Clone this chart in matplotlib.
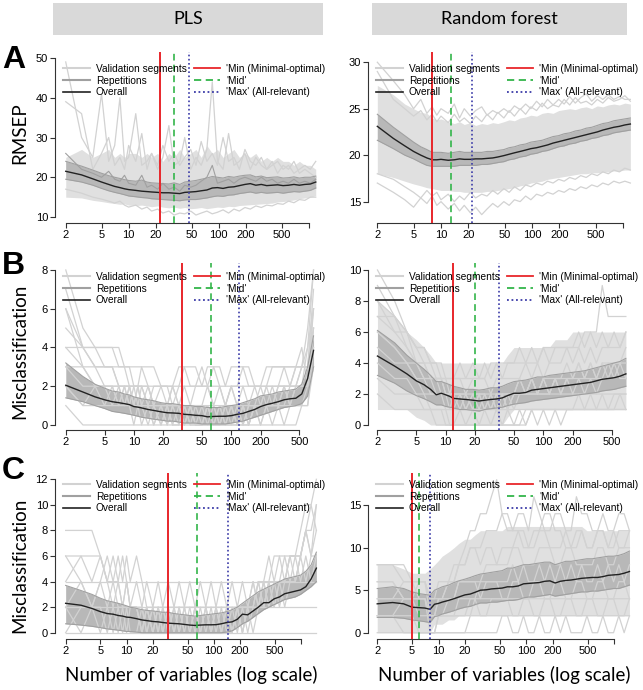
import matplotlib.pyplot as plt
from matplotlib.lines import Line2D
from matplotlib.patches import Rectangle

plt.rcParams['font.family'] = ['Liberation Sans', 'DejaVu Sans']

# ---- data ----
# number of variables kept at each step (row A, B, C)
xA = [2, 3, 4, 5, 6, 7, 8, 9, 10, 12,
      14, 16, 18, 21, 24, 28, 32, 37, 42, 49,
      56, 64, 74, 85, 97, 112, 129, 148, 170, 196,
      225, 259, 298, 342, 393, 452, 520, 598, 687, 790,
      908, 1044, 1200]
xB = [2, 3, 4, 5, 6, 7, 8, 9, 10, 11,
      12, 14, 16, 19, 22, 25, 29, 33, 38, 43,
      50, 57, 66, 76, 87, 100, 115, 132, 151, 174,
      200, 230, 264, 304, 349, 401, 461, 530, 609, 700]
xC = [2, 3, 4, 5, 6, 7, 8, 9, 10, 11,
      13, 15, 17, 20, 23, 26, 30, 35, 40, 46,
      53, 61, 70, 81, 93, 106, 122, 141, 162, 186,
      213, 245, 282, 324, 373, 428, 492, 566, 650, 748,
      859, 988, 1135, 1305, 1500]

# A, PLS (RMSEP)
a_pls_overall = [21.5, 20.6, 19.6, 18.8, 18.2, 17.7, 17.4, 17.1, 16.9, 16.7,
                 16.5, 16.4, 16.3, 16.2, 16.1, 16.1, 16.0, 15.9, 16.2, 16.3,
                 16.4, 16.6, 16.8, 17.3, 17.4, 17.2, 17.5, 17.6, 17.9, 18.2,
                 18.4, 18.0, 18.2, 17.9, 18.0, 18.1, 17.9, 18.0, 18.2, 18.0,
                 18.2, 18.3, 18.8]
a_pls_rep_lo = [19.5, 18.8, 18.0, 17.2, 16.6, 16.2, 15.9, 15.6, 15.3, 15.1,
                14.9, 14.8, 14.6, 14.5, 14.4, 14.3, 14.2, 14.1, 14.3, 14.4,
                14.4, 14.6, 14.8, 15.1, 15.3, 15.2, 15.5, 15.6, 15.9, 16.1,
                16.3, 16.0, 16.2, 16.0, 16.1, 16.2, 16.0, 16.2, 16.4, 16.3,
                16.5, 16.7, 17.3]
a_pls_rep_hi = [24.0, 22.8, 21.8, 21.0, 20.4, 20.0, 19.7, 19.4, 19.2, 19.0,
                19.3, 18.8, 18.6, 18.5, 18.4, 18.3, 18.6, 18.2, 18.8, 19.0,
                19.2, 19.5, 19.8, 20.2, 20.0, 19.8, 20.2, 20.0, 20.3, 20.5,
                20.6, 20.1, 20.3, 19.9, 20.0, 20.1, 19.8, 19.9, 20.1, 19.8,
                20.0, 20.0, 20.3]
a_pls_val_lo = [15.0, 14.8, 14.2, 13.9, 13.6, 13.4, 13.2, 13.3, 13.0, 12.9,
                13.0, 12.8, 12.6, 12.8, 12.5, 12.3, 12.5, 12.2, 12.4, 12.1,
                12.2, 12.4, 12.1, 12.3, 12.5, 12.4, 12.7, 12.6, 12.9, 13.0,
                13.1, 13.2, 13.3, 13.4, 13.5, 13.8, 13.9, 14.1, 14.3, 14.6,
                14.8, 15.0, 15.4]
a_pls_val_hi = [25, 27, 25, 26, 27, 25, 26, 25, 26, 26,
                25, 26, 25, 26, 24, 26, 25, 27, 25, 26,
                27, 25, 28, 26, 27, 25, 26, 27, 25, 26,
                25, 26, 24, 25, 24, 25, 24, 24, 23, 24,
                23, 23, 22]
a_pls_val_lines = [
    [49, 30, 25, 41, 24, 28, 40, 24, 25, 36,
     23, 24, 26, 22, 25, 33, 23, 24, 30, 22,
     25, 23, 27, 44, 24, 22, 31, 23, 24, 26,
     22, 25, 23, 22, 24, 21, 23, 22, 24, 21,
     22, 21, 20],
    [39, 36, 22, 26, 30, 23, 25, 22, 28, 24,
     31, 22, 26, 23, 28, 24, 26, 23, 25, 27,
     23, 29, 24, 26, 23, 30, 24, 25, 22, 27,
     24, 23, 25, 22, 23, 24, 22, 23, 21, 22,
     23, 22, 24],
    [17, 16, 15, 14.5, 14, 13.5, 14, 13, 12.5, 13,
     12, 12.5, 11.5, 12, 11, 11.5, 10.5, 11, 10.8, 11.5,
     10.5, 11, 11.5, 10.8, 11.2, 11.8, 11, 12, 11.5, 12.4,
     12, 12.8, 12.4, 13, 12.8, 13.4, 13.2, 14, 13.6, 14.4,
     14.2, 15, 15],
]
a_pls_rep_spike = [26, 22, 21, 20, 21.5, 19.5, 19, 20.5, 18.5, 18,
                   20.5, 17.5, 18, 17, 18.5, 17, 17.5, 16.5, 18, 17.5,
                   18, 19, 20, 23, 18.5, 19, 19.5, 18.5, 19.5, 20,
                   19.5, 19, 20, 19, 19.5, 18.5, 19, 18.5, 19.5, 18.5,
                   19, 18.5, 19.5]

# A, random forest (RMSEP)
a_rf_overall = [23.1, 21.8, 21.0, 20.4, 20.0, 19.7, 19.5, 19.5, 19.55, 19.45,
                19.5, 19.6, 19.55, 19.55, 19.6, 19.6, 19.65, 19.7, 19.8, 19.95,
                20.1, 20.25, 20.4, 20.55, 20.7, 20.8, 20.95, 21.1, 21.3, 21.45,
                21.6, 21.75, 21.9, 22.05, 22.2, 22.35, 22.5, 22.7, 22.85, 23.0,
                23.1, 23.25, 23.35]
a_rf_rep_lo = [21.6, 20.7, 20.0, 19.6, 19.2, 18.9, 18.8, 18.8, 18.8, 18.8,
               18.8, 18.9, 18.9, 18.9, 18.9, 19.0, 19.0, 19.1, 19.2, 19.3,
               19.5, 19.6, 19.8, 19.9, 20.1, 20.2, 20.4, 20.5, 20.7, 20.9,
               21.0, 21.2, 21.3, 21.5, 21.6, 21.8, 21.9, 22.1, 22.2, 22.4,
               22.5, 22.6, 22.7]
a_rf_rep_hi = [24.4, 23.0, 22.1, 21.4, 20.9, 20.6, 20.3, 20.3, 20.3, 20.2,
               20.3, 20.4, 20.3, 20.3, 20.3, 20.3, 20.4, 20.4, 20.5, 20.6,
               20.8, 20.9, 21.1, 21.2, 21.4, 21.5, 21.6, 21.8, 22.0, 22.1,
               22.3, 22.4, 22.6, 22.7, 22.9, 23.0, 23.2, 23.4, 23.5, 23.7,
               23.8, 23.9, 24.0]
a_rf_val_lo = [18.0, 17.6, 17.2, 16.9, 16.7, 16.5, 16.4, 16.3, 16.2, 16.2,
               16.1, 16.1, 16.0, 16.0, 16.0, 16.0, 16.1, 16.1, 16.2, 16.3,
               16.4, 16.5, 16.7, 16.8, 17.0, 17.1, 17.2, 17.4, 17.5, 17.6,
               17.7, 17.8, 17.9, 18.0, 18.0, 18.1, 18.1, 18.2, 18.2, 18.3,
               18.3, 18.4, 18.4]
a_rf_val_hi = [27.5, 26.5, 25.5, 25.0, 24.6, 24.5, 24.0, 23.8, 23.9, 23.6,
               23.4, 23.6, 23.3, 23.5, 23.2, 23.4, 23.3, 23.5, 23.4, 23.6,
               23.8, 23.7, 24.0, 24.1, 24.3, 24.2, 24.5, 24.6, 24.5, 24.8,
               24.9, 25.0, 24.9, 25.1, 25.2, 25.0, 25.3, 25.2, 25.4, 25.5,
               25.4, 25.6, 25.5]
a_rf_val_lines = [
    [30, 28, 26.5, 25, 26, 24.5, 25.2, 24.3, 25, 24.5,
     25.5, 24, 25, 24.2, 24.8, 25.2, 24.3, 24.8, 24.5, 25,
     24.6, 25.3, 24.9, 25.5, 25, 25.8, 25.2, 26, 25.4, 26,
     25.5, 26.3, 25.6, 26.2, 26.6, 25.8, 26.4, 26, 26.5, 26,
     26.3, 26, 26],
    [29, 26, 25, 24.2, 24.8, 23.8, 24.4, 23.6, 24.2, 23.5,
     24.4, 23.6, 24.0, 23.4, 24.2, 23.6, 24.4, 23.8, 24.6, 24.0,
     24.8, 24.2, 25.0, 24.4, 25.2, 24.8, 25.6, 25.0, 25.4, 25.2,
     26.0, 25.4, 26.2, 25.6, 25.8, 25.4, 26.0, 25.6, 26.2, 25.8,
     26.0, 26.4, 25.8],
    [17, 16, 15.2, 14.4, 15.4, 14.8, 15.6, 14.6, 15.0, 14.2,
     14.8, 14.0, 14.6, 13.8, 14.4, 13.6, 14.2, 14.8, 14.4, 15.0,
     14.6, 15.2, 15.0, 15.6, 15.2, 15.8, 15.6, 16.0, 15.8, 16.2,
     16.0, 16.4, 16.2, 16.6, 16.4, 16.8, 16.6, 17.0, 16.8, 17.2,
     17.0, 17.2, 17.0],
    [18, 17.4, 16.6, 16, 15.4, 16.2, 15.6, 16, 15.2, 15.8,
     15.0, 15.6, 15.2, 16, 15.4, 15.8, 15.6, 16.2, 15.8, 16.4,
     16.0, 16.6, 16.2, 16.8, 16.6, 17.0, 16.8, 17.2, 17.0, 17.4,
     17.2, 17.6, 17.4, 17.8, 17.6, 18.0, 17.8, 18.2, 18.0, 18.4,
     18.2, 18.6, 18.4],
]

# B, PLS (misclassifications, whole counts per segment)
b_pls_overall = [2.05, 1.7, 1.45, 1.3, 1.2, 1.15, 1.1, 1.05, 0.95, 0.92,
                 0.88, 0.8, 0.75, 0.68, 0.63, 0.62, 0.6, 0.55, 0.53, 0.5,
                 0.48, 0.42, 0.44, 0.45, 0.45, 0.48, 0.55, 0.6, 0.7, 0.8,
                 0.95, 1.05, 1.12, 1.2, 1.3, 1.35, 1.38, 1.6, 2.4, 3.85]
b_pls_rep_lo = [1.4, 1.2, 1.0, 0.85, 0.7, 0.65, 0.6, 0.55, 0.5, 0.45,
                0.4, 0.35, 0.3, 0.25, 0.2, 0.2, 0.15, 0.1, 0.1, 0.1,
                0.05, 0.05, 0.05, 0.05, 0.05, 0.1, 0.15, 0.2, 0.3, 0.4,
                0.5, 0.6, 0.7, 0.8, 0.9, 0.95, 1.0, 1.1, 1.5, 3.0]
b_pls_rep_hi = [3.2, 2.5, 2.1, 1.9, 1.75, 1.7, 1.6, 1.55, 1.45, 1.4,
                1.35, 1.3, 1.25, 1.15, 1.1, 1.1, 1.05, 1.0, 1.0, 0.95,
                0.95, 0.9, 0.9, 0.9, 0.95, 1.0, 1.05, 1.15, 1.25, 1.35,
                1.5, 1.55, 1.6, 1.7, 1.75, 1.8, 1.85, 2.1, 3.0, 4.6]
b_pls_val_lines = [
    "8543322211" "2111011010" "0100001001" "1111122358",
    "6432221212" "1101100100" "0000100011" "1112222346",
    "4433333222" "2211111110" "1010110101" "1222223335",
    "3222212121" "1010101010" "0101010101" "0111212225",
    "2111111111" "1111111111" "1111111111" "1111111126",
    "5444433322" "2222212222" "2222122222" "2222222248",
    "7444443333" "3332223333" "2333233332" "2333333336",
    "2121212101" "0101010101" "0101010101" "0101011114",
    "1000000000" "0000000000" "0000000000" "0000000113",
    "3322222222" "1212121211" "1212121211" "2121212225",
    "4322121212" "3210121012" "3210121012" "1212323424",
    "6333322222" "2122222322" "2232222322" "2233333337",
]

# B, random forest
b_rf_overall = [4.45, 3.8, 3.3, 2.85, 2.6, 2.3, 1.95, 2.05, 1.95, 1.85,
                1.72, 1.68, 1.65, 1.6, 1.55, 1.6, 1.65, 1.68, 1.75, 1.9,
                2.05, 2.05, 2.1, 2.25, 2.3, 2.35, 2.4, 2.45, 2.5, 2.55,
                2.6, 2.65, 2.7, 2.75, 2.85, 2.95, 3.0, 3.05, 3.15, 3.3]
b_rf_rep_lo = [3.2, 2.7, 2.2, 1.9, 1.7, 1.5, 1.3, 1.3, 1.2, 1.15,
               1.1, 1.0, 1.0, 0.95, 0.9, 1.0, 1.05, 1.1, 1.15, 1.25,
               1.35, 1.4, 1.45, 1.55, 1.6, 1.65, 1.7, 1.75, 1.8, 1.85,
               1.9, 1.95, 2.0, 2.05, 2.1, 2.2, 2.25, 2.3, 2.4, 2.5]
b_rf_rep_hi = [6.1, 5.3, 4.5, 4.0, 3.6, 3.2, 2.8, 2.8, 2.7, 2.6,
               2.5, 2.4, 2.3, 2.3, 2.25, 2.3, 2.4, 2.4, 2.5, 2.65,
               2.8, 2.85, 2.9, 3.0, 3.1, 3.1, 3.2, 3.25, 3.3, 3.35,
               3.4, 3.45, 3.5, 3.6, 3.7, 3.8, 3.9, 4.0, 4.1, 4.3]
b_rf_val_lo = [1, 1, 1, 0.5, 0.3, 0, 0, 0, 0, 0,
               0, 0, 0, 0, 0, 0, 0, 0, 0, 0.5,
               1, 1, 1, 1, 1, 1, 1, 1, 1, 1,
               1, 1, 1, 1, 1, 1, 1, 1, 1, 1]
b_rf_val_hi = [8, 7, 6, 5.5, 5, 4.5, 4, 4, 4, 4,
               4, 4, 4, 4, 4, 4, 4, 4, 4, 4.5,
               5, 5, 5, 5, 5, 5, 5, 5.5, 5.5, 5.5,
               6, 6, 6, 6, 6, 6, 6, 6, 6, 6]
b_rf_val_lines = [
    "a864433322" "2212221222" "2223233334" "3434344445",
    "8754333222" "1212121212" "1222222333" "3333333444",
    "6543222211" "1111111111" "1111111111" "1111111111",
    "9765443332" "3323332333" "3343434445" "4545455556",
    "4332211110" "0101010101" "0101111111" "1212121222",
    "7654432222" "2222222222" "2222222222" "2222222222",
    "5444333322" "2221212121" "2323232323" "3434343433",
    "3222111100" "0000000000" "0001010101" "1111111121",
    "8665544433" "3434343434" "4545454555" "5656565656",
    "6543322221" "2121212121" "2323232323" "2323234343",
    "7765544333" "3333334444" "4444455555" "5566697777",
    "2111110000" "0000000000" "0011111111" "1111111111",
]

# C, PLS
c_pls_overall = [2.3, 2.15, 1.9, 1.65, 1.5, 1.45, 1.35, 1.3, 1.22, 1.2,
                 1.1, 1.0, 0.95, 0.88, 0.85, 0.8, 0.75, 0.72, 0.7, 0.65,
                 0.6, 0.57, 0.6, 0.62, 0.62, 0.63, 0.7, 0.8, 0.85, 1.05,
                 1.45, 1.4, 1.7, 2.0, 2.35, 2.35, 2.65, 2.8, 3.05, 3.15,
                 3.25, 3.35, 3.6, 4.2, 5.05]
c_pls_rep_lo = [0.7, 0.6, 0.5, 0.4, 0.3, 0.25, 0.2, 0.15, 0.1, 0.1,
                0.05, 0, 0, 0, 0, 0, 0, 0, 0, 0,
                0, 0, 0, 0, 0, 0, 0, 0.05, 0.15, 0.4,
                0.7, 0.9, 1.2, 1.5, 1.8, 2.0, 2.2, 2.4, 2.6, 2.7,
                2.8, 3.0, 3.3, 3.6, 4.0]
c_pls_rep_hi = [3.7, 3.3, 3.0, 2.7, 2.5, 2.4, 2.3, 2.2, 2.1, 2.0,
                1.9, 1.8, 1.75, 1.7, 1.65, 1.6, 1.6, 1.5, 1.45, 1.4,
                1.35, 1.3, 1.35, 1.4, 1.45, 1.5, 1.55, 1.65, 1.8, 2.0,
                2.3, 2.6, 2.9, 3.2, 3.4, 3.6, 3.8, 4.0, 4.2, 4.3,
                4.4, 4.5, 4.8, 5.3, 6.3]
c_pls_val_lines = [
    "8886444242" "4242424242" "4242424242" "4242464646" "68aac",
    "6666424242" "2020202020" "2020202020" "2024242424" "46868",
    "4444444444" "4444444444" "4444444444" "4444444444" "44444",
    "2222222222" "2222222222" "2222222222" "2222222222" "22222",
    "0000000000" "0000000000" "0000000000" "0000000000" "00000",
    "4646464642" "2202020202" "0202020202" "0202424246" "468a8",
    "2020202020" "0202020202" "0202020202" "0224242464" "64646",
    "6424646464" "6422222222" "2222222222" "2224446666" "6688a",
    "2424242222" "2020200000" "0000000002" "0222244444" "46466",
    "0222020202" "2020202020" "0202020202" "2242424446" "6686a",
]

# C, random forest
c_rf_overall = [3.4, 3.55, 3.4, 3.0, 2.95, 2.9, 2.75, 3.35, 3.45, 3.6,
                3.8, 4.0, 4.2, 4.45, 4.55, 4.75, 5.0, 5.05, 5.15, 5.2,
                5.25, 5.4, 5.4, 5.5, 5.75, 5.8, 5.85, 5.9, 6.05, 6.1,
                5.85, 6.05, 6.15, 6.2, 6.3, 6.4, 6.45, 6.5, 6.5, 6.6,
                6.75, 6.8, 6.85, 7.0, 7.2]
c_rf_rep_lo = [1.8, 1.8, 1.7, 1.5, 1.4, 1.3, 1.2, 1.9, 2.0, 2.2,
               2.4, 2.6, 2.8, 3.0, 3.1, 3.3, 3.5, 3.5, 3.6, 3.6,
               3.7, 3.8, 3.8, 3.9, 4.1, 4.2, 4.2, 4.3, 4.4, 4.5,
               4.3, 4.4, 4.5, 4.6, 4.7, 4.8, 4.8, 4.9, 4.9, 5.0,
               5.1, 5.2, 5.2, 5.4, 5.6]
c_rf_rep_hi = [5.2, 5.4, 5.2, 4.8, 4.6, 4.5, 4.4, 5.0, 5.2, 5.4,
               5.6, 5.9, 6.1, 6.3, 6.5, 6.7, 6.9, 7.0, 7.1, 7.2,
               7.3, 7.6, 7.6, 7.8, 8.0, 8.0, 8.1, 8.2, 8.3, 8.3,
               8.0, 8.2, 8.4, 8.4, 8.5, 8.6, 8.7, 8.7, 8.8, 8.9,
               9.0, 9.0, 9.1, 9.3, 9.6]
c_rf_val_lo = [0, 0, 0, 0, 0, 0, 0, 1, 1, 1,
               1.5, 1.5, 2, 2, 2, 2, 2, 2, 2, 2,
               2, 2, 2, 2, 2, 2, 2, 2, 2, 2,
               2, 2, 2, 2, 2, 2, 2, 2, 2, 2,
               2, 2, 2, 2, 2]
c_rf_val_hi = [8, 8, 7.5, 7, 7, 7, 7.5, 8, 8.5, 9,
               9.5, 10, 10.5, 11, 11, 11.5, 12, 12, 12, 12,
               12, 12.5, 12.5, 12.5, 12.5, 12.5, 12.5, 12.5, 12.5, 12.5,
               12.5, 12.5, 12.5, 12.5, 12.5, 12.5, 12, 12, 12, 12,
               12, 12, 12, 12, 12]
c_rf_val_lines = [
    "8886664444" "6688aaaccc" "eeccaaccee" "ccaaccaacc" "aaccc",
    "6644442222" "4466666888" "88aa888aaa" "88aa8888aa" "88aaa",
    "4444222222" "2222244444" "4444444444" "4444444444" "44444",
    "2222000000" "0000222222" "2222222222" "2222222222" "22222",
    "0000000000" "0000000000" "2200200200" "2020002002" "00202",
    "8866664466" "688acceegi" "ecceecgecc" "eeccgeecce" "cceec",
    "4466442244" "4466664666" "6686866868" "6868686686" "86868",
    "2244662244" "6688aa8aa8" "aaaccaacca" "aacaacaacc" "acaac",
    "6644440022" "2244446666" "4466446644" "6644664466" "44664",
    "2200000022" "2222442244" "4422442244" "2244224422" "44224",
]

# selected numbers of variables: min, mid, max
cuts = {
    'a_pls': [22.5, 32, 46.5], 'a_rf': [8, 13, 22],
    'b_pls': [31, 62, 121], 'b_rf': [12, 20, 35],
    'c_pls': [30, 65, 144], 'c_rf': [5, 6, 8],
}

# ---- figure ----
W, H = 643, 690
fig = plt.figure(figsize=(W / 100, H / 100), dpi=100)

VAL = '#d2d2d2'
VAL_FILL = '#e0e0e0'
REP = '#a0a0a0'
REP_FILL = '#b8b8b8'
OVR = '#222222'
RED = '#e8262b'
GREEN = '#33b54a'
BLUE = '#3b3ba8'
HEAD_FONT = ['Lato', 'DejaVu Sans']


def px_axes(l, t, r, b):
    return fig.add_axes([l / W, 1 - b / H, (r - l) / W, (b - t) / H])


def decode(line):
    # strings hold one count per character (a = 10, c = 12 ...)
    if isinstance(line, str):
        return [int(ch, 36) for ch in line]
    return line


def panel(ax, x, overall, rep_lo, rep_hi, val_lines, cut, xlim, ylim,
          yticks, xticks, leg_drop, val_lo=None, val_hi=None):
    if val_lo is not None:
        ax.fill_between(x, val_lo, val_hi, color=VAL_FILL, lw=0)
    for line in val_lines:
        ax.plot(x, decode(line), color=VAL, lw=0.9)
    ax.fill_between(x, rep_lo, rep_hi, color=REP_FILL, lw=0)
    ax.plot(x, rep_lo, color=REP, lw=0.8)
    ax.plot(x, rep_hi, color=REP, lw=0.8)
    ax.plot(x, overall, color=OVR, lw=1.0, zorder=3)

    ax.axvline(cut[0], color=RED, lw=1.4, zorder=4)
    ax.axvline(cut[1], color=GREEN, lw=1.2, ls=(0, (4, 2.5)), zorder=4)
    ax.axvline(cut[2], color=BLUE, lw=1.2, ls=(0, (1, 1.5)), zorder=4)

    ax.set_xscale('log')
    ax.set_xlim(xlim)
    ax.set_ylim(ylim)
    ax.set_xticks(xticks)
    ax.set_xticklabels([str(t) if t != 1000 else '' for t in xticks])
    ax.minorticks_off()
    ax.set_yticks(yticks)
    ax.tick_params(labelsize=8, length=3.5, width=0.8, pad=1.5,
                   color='#333333')
    for s in ['top', 'right']:
        ax.spines[s].set_visible(False)
    ax.spines['left'].set_bounds(yticks[0], yticks[-1])
    ax.spines['bottom'].set_bounds(xticks[0], xticks[-1])
    for s in ['left', 'bottom']:
        ax.spines[s].set_linewidth(0.8)
        ax.spines[s].set_color('#333333')

    handles = [Line2D([], [], color=VAL, lw=1.5),
               Line2D([], [], color=REP, lw=1.5),
               Line2D([], [], color=OVR, lw=1.2),
               Line2D([], [], color=RED, lw=1.3),
               Line2D([], [], color=GREEN, lw=1.3, ls=(0, (4, 2.5))),
               Line2D([], [], color=BLUE, lw=1.3, ls=(0, (1, 1.5)))]
    labels = ['Validation segments', 'Repetitions', 'Overall',
              "'Min (Minimal-optimal)", "'Mid'", "'Max' (All-relevant)"]
    h = ax.get_position().height * H
    ax.legend(handles, labels, ncol=2, loc='upper left',
              bbox_to_anchor=(0.02, 1.0 - leg_drop / h), frameon=False,
              fontsize=7.3, handlelength=2.6, handletextpad=0.6,
              columnspacing=0.7, labelspacing=0.15, borderpad=0.3,
              borderaxespad=0).set_zorder(5)


ticks_long = [2, 5, 10, 20, 50, 100, 200, 500, 1000]
ticks_short = [2, 5, 10, 20, 50, 100, 200, 500]

ax = px_axes(55, 52, 327, 223)
panel(ax, xA, a_pls_overall, a_pls_rep_lo, a_pls_rep_hi, a_pls_val_lines,
      cuts['a_pls'], (1.52, 1600), (8.5, 51.5), [10, 20, 30, 40, 50],
      ticks_long, 9, a_pls_val_lo, a_pls_val_hi)
ax.plot(xA, a_pls_rep_spike, color=REP, lw=0.8, zorder=2.5)
ax.set_ylabel('RMSEP', fontsize=13.5, family=HEAD_FONT)
ax.yaxis.set_label_coords(-0.099, 0.526)

ax = px_axes(368, 52, 640, 223)
panel(ax, xA, a_rf_overall, a_rf_rep_lo, a_rf_rep_hi, a_rf_val_lines,
      cuts['a_rf'], (1.58, 1531), (12.7, 31.1), [15, 20, 25, 30],
      ticks_long, 9, a_rf_val_lo, a_rf_val_hi)

ax = px_axes(55, 263, 326, 430)
panel(ax, xB, b_pls_overall, b_pls_rep_lo, b_pls_rep_hi, b_pls_val_lines,
      cuts['b_pls'], (1.55, 940), (-0.26, 8.36), [0, 2, 4, 6, 8],
      ticks_short, 6)
ax.set_ylabel('Misclassification', fontsize=13.5, family=HEAD_FONT)
ax.yaxis.set_label_coords(-0.099, 0.47)

ax = px_axes(368, 263, 637, 430)
panel(ax, xB, b_rf_overall, b_rf_rep_lo, b_rf_rep_hi, b_rf_val_lines,
      cuts['b_rf'], (1.6, 910), (-0.32, 10.45), [0, 2, 4, 6, 8, 10],
      ticks_short, 6, b_rf_val_lo, b_rf_val_hi)

ax = px_axes(55, 473, 327, 639)
panel(ax, xC, c_pls_overall, c_pls_rep_lo, c_pls_rep_hi, c_pls_val_lines,
      cuts['c_pls'], (1.51, 1986), (-0.49, 12.49), [0, 2, 4, 6, 8, 10, 12],
      ticks_long, 4)
ax.set_ylabel('Misclassification', fontsize=13.5, family=HEAD_FONT)
ax.yaxis.set_label_coords(-0.099, 0.446)
ax.set_xlabel('Number of variables (log scale)', fontsize=13.5,
              family=HEAD_FONT, labelpad=7)

ax = px_axes(368, 473, 640, 639)
panel(ax, xC, c_rf_overall, c_rf_rep_lo, c_rf_rep_hi, c_rf_val_lines,
      cuts['c_rf'], (1.57, 1979), (-0.74, 18.79), [0, 5, 10, 15],
      ticks_long, 4, c_rf_val_lo, c_rf_val_hi)
ax.set_xlabel('Number of variables (log scale)', fontsize=13.5,
              family=HEAD_FONT, labelpad=7)

# column headers
for (l, r), title in [((53, 323), 'PLS'), ((372, 627), 'Random forest')]:
    fig.patches.append(Rectangle((l / W, 1 - 35 / H), (r - l) / W, 32 / H,
                                 transform=fig.transFigure,
                                 color='#d9d9d9', lw=0))
    fig.text((l + r) / 2 / W, 1 - 19 / H, title, ha='center', va='center',
             fontsize=13, family=HEAD_FONT)

# row letters
for y, letter in [(60, 'A'), (266, 'B'), (471, 'C')]:
    fig.text(2 / W, 1 - y / H, letter, fontsize=23, fontweight='bold',
             va='center', ha='left')

fig.savefig('out.png', dpi=100)
